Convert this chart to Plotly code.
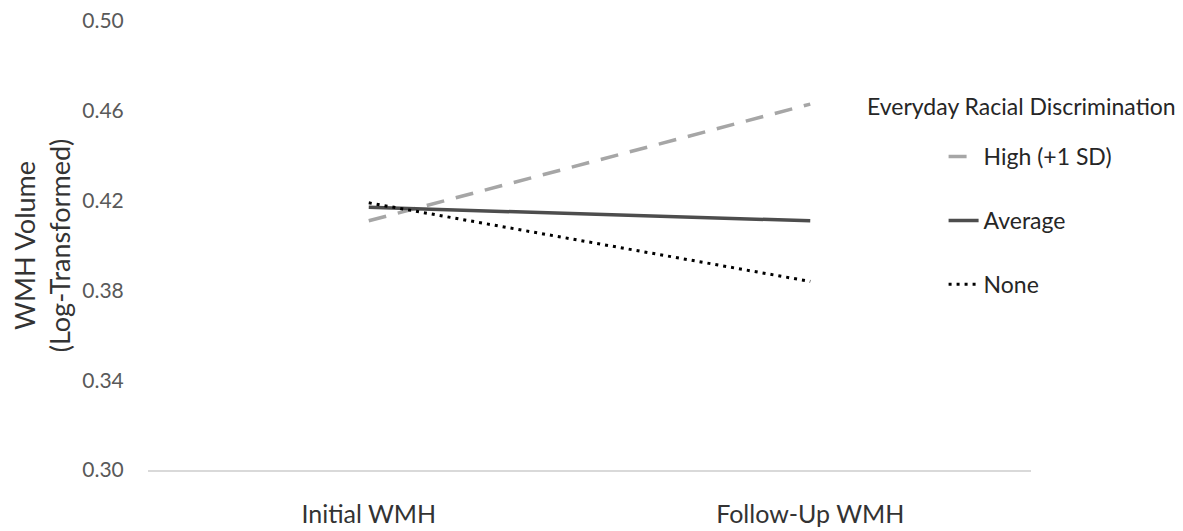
import plotly.graph_objects as go

categories = ["Initial WMH", "Follow-Up WMH"]
high_vals = [0.411, 0.463]
average_vals = [0.417, 0.411]
none_vals = [0.419, 0.384]
series_names = ["High (+1 SD)", "Average", "None"]
y_ticks = [0.30, 0.34, 0.38, 0.42, 0.46, 0.50]

FONT = "Lato"

fig = go.Figure()
fig.add_trace(go.Scatter(x=categories, y=high_vals, mode="lines", name=series_names[0],
                         legendgroup="h",
                         line=dict(color="#a6a6a6", width=3.5, dash="18px,12px")))
fig.add_trace(go.Scatter(x=categories, y=average_vals, mode="lines", name=series_names[1],
                         legendgroup="a",
                         line=dict(color="#4d4d4d", width=3.5)))
fig.add_trace(go.Scatter(x=categories, y=none_vals, mode="lines", name=series_names[2],
                         legendgroup="n",
                         line=dict(color="#000000", width=3, dash="3px,5px")))

fig.update_layout(
    width=1175, height=523,
    margin=dict(l=140, r=152, t=13, b=61),
    paper_bgcolor="white", plot_bgcolor="white",
    font=dict(family=FONT, color="#404040"),
    showlegend=True,
    legend=dict(x=0.901, y=0.746, xanchor="left", yanchor="top",
                font=dict(size=23, color="#262626"),
                tracegroupgap=31, bgcolor="rgba(0,0,0,0)"),
    annotations=[dict(text="Everyday Racial Discrimination", xref="paper", yref="paper",
                      x=0.812, y=0.811, xanchor="left", yanchor="middle",
                      showarrow=False, font=dict(size=23, color="#262626", family=FONT))],
)
fig.update_xaxes(type="category", range=[-0.5, 1.5], showgrid=False, automargin=False,
                 showline=True, linecolor="#d9d9d9", linewidth=2,
                 ticks="outside", ticklen=21, tickcolor="rgba(0,0,0,0)",
                 tickfont=dict(size=25, color="#333333"), zeroline=False)
fig.update_yaxes(range=[0.30, 0.50], tickvals=y_ticks, tickformat=".2f",
                 ticklabeloverflow="allow", automargin=False,
                 showgrid=False, showline=False, zeroline=False,
                 ticks="outside", ticklen=19, tickcolor="rgba(0,0,0,0)",
                 tickfont=dict(size=21, color="#595959"),
                 title=dict(text="WMH Volume<br>(Log-Transformed)", standoff=11,
                            font=dict(size=27, color="#333333")))

fig.write_html("out.html")
